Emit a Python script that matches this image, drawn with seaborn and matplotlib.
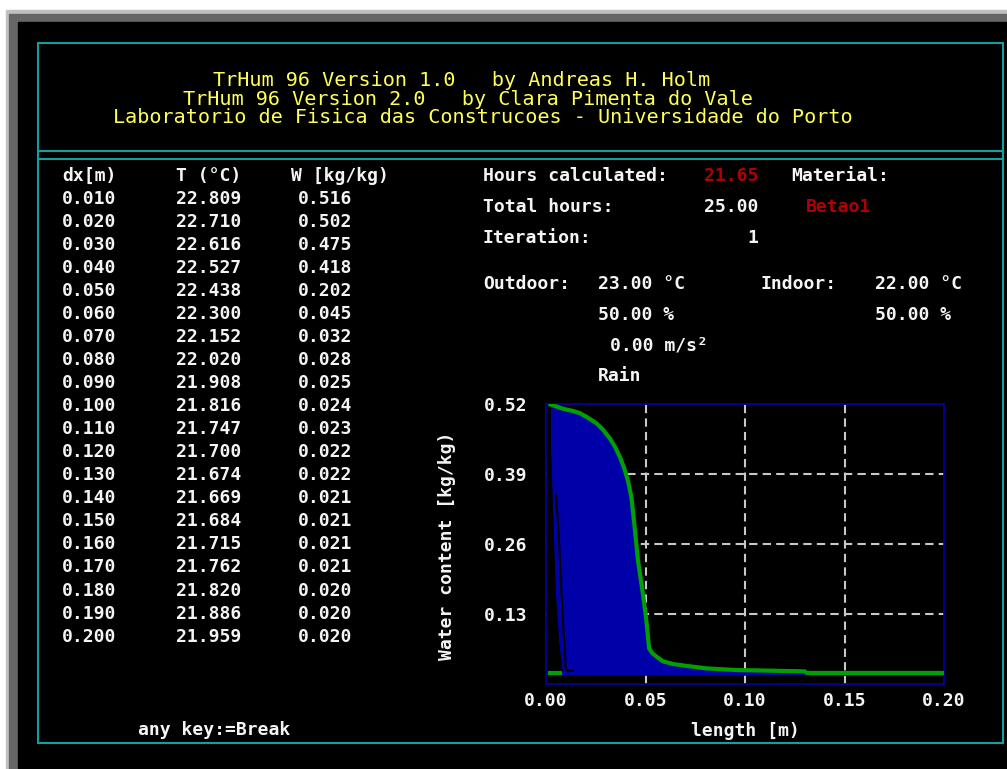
import matplotlib
matplotlib.use("Agg")
import matplotlib.pyplot as plt
import seaborn as sns
from matplotlib.patches import Rectangle

# ==========================================
# DATA
# ==========================================

dx = [0.010, 0.020, 0.030, 0.040, 0.050, 0.060, 0.070, 0.080, 0.090, 0.100,
      0.110, 0.120, 0.130, 0.140, 0.150, 0.160, 0.170, 0.180, 0.190, 0.200]
temp = [22.809, 22.710, 22.616, 22.527, 22.438, 22.300, 22.152, 22.020, 21.908, 21.816,
        21.747, 21.700, 21.674, 21.669, 21.684, 21.715, 21.762, 21.820, 21.886, 21.959]
water = [0.516, 0.502, 0.475, 0.418, 0.202, 0.045, 0.032, 0.028, 0.025, 0.024,
         0.023, 0.022, 0.022, 0.021, 0.021, 0.021, 0.021, 0.020, 0.020, 0.020]

# current moisture profile (green line)
prof_x = [0.0023, 0.0087, 0.0137, 0.0170, 0.0204, 0.0229, 0.0254, 0.0287, 0.0321, 0.0346,
          0.0371, 0.0393, 0.0413, 0.0430, 0.0446, 0.0463, 0.0488, 0.0505, 0.0518, 0.0535,
          0.0555, 0.0588, 0.0640, 0.0698, 0.0807, 0.0953, 0.1300, 0.1310, 0.1990]
prof_w = [0.519, 0.511, 0.507, 0.503, 0.496, 0.490, 0.484, 0.472, 0.456, 0.441,
          0.422, 0.401, 0.376, 0.345, 0.289, 0.227, 0.165, 0.116, 0.066, 0.057,
          0.051, 0.042, 0.037, 0.034, 0.029, 0.026, 0.0235, 0.0205, 0.0205]
fill_floor = 0.017

# older profiles left on screen (black traces)
trail_a_x = [0.0012, 0.0023, 0.0033, 0.0045, 0.0062, 0.0079]
trail_a_w = [0.484, 0.413, 0.290, 0.167, 0.074, 0.024]
trail_b_x = [0.0050, 0.0062, 0.0074, 0.0087, 0.0100, 0.0134]
trail_b_w = [0.351, 0.290, 0.198, 0.105, 0.026, 0.024]
start_x = [0.0020, 0.0070]
start_w = [0.0205, 0.0205]

x_ticks = [0.00, 0.05, 0.10, 0.15, 0.20]
x_tick_labels = ["0.00", "0.05", "0.10", "0.15", "0.20"]
y_ticks = [0.13, 0.26, 0.39, 0.52]
y_tick_labels = ["0.13", "0.26", "0.39", "0.52"]
grid_x = [0.05, 0.10, 0.15]
grid_w = [0.13, 0.26, 0.39]

header_lines = ["TrHum 96 Version 1.0   by Andreas H. Holm",
                "TrHum 96 Version 2.0   by Clara Pimenta do Vale",
                "Laboratorio de Fisica das Construcoes - Universidade do Porto"]

# ==========================================
# STYLE
# ==========================================

WHITE = "#f4f4f4"
RED = "#b00000"
YELLOW = "#ffff55"
CYAN = "#10a0a0"
NAVY = "#0000a8"
GREEN = "#00a000"
GRID = "#c8c8c8"
FS = 13

plt.rcParams["font.family"] = ["DejaVu Sans Mono"]
plt.rcParams["font.weight"] = "bold"

fig = plt.figure(figsize=(10.07, 7.69), dpi=100)

# screen background in pixel coordinates
bg = fig.add_axes([0, 0, 1, 1])
bg.set_xlim(0, 1007)
bg.set_ylim(769, 0)
bg.axis("off")
bg.add_patch(Rectangle((0, 0), 1007, 769, color="white"))
bg.add_patch(Rectangle((6, 10), 1001, 759, color="#c0c0c0"))
bg.add_patch(Rectangle((9, 14), 998, 755, color="#666666"))
bg.add_patch(Rectangle((18, 22), 989, 746, color="black"))
bg.add_patch(Rectangle((38, 43), 965, 700, fill=False, edgecolor=CYAN, lw=1.5))
bg.plot([38, 1003], [151, 151], color=CYAN, lw=1.5)
bg.plot([38, 1003], [159, 159], color=CYAN, lw=1.5)


def put(x, y, s, color=WHITE, ha="left", size=FS, weight="bold"):
    # y is the visual centre of the capitals
    bg.text(x, y + 0.47 * size * 100 / 72 * 0.73 + 0.5, s, color=color, ha=ha,
            va="baseline", fontsize=size, fontweight=weight)


# header
for i, (line, x0) in enumerate(zip(header_lines, [213, 183, 113])):
    put(x0, 79 + i * 18.5, line, color=YELLOW, size=14.5, weight="normal")

# left table
put(62, 174, "dx[m)")
put(176, 174, "T (°C)")
put(291, 174, "W [kg/kg)")
for i in range(len(dx)):
    yc = 197 + i * 23.05
    put(62, yc, f"{dx[i]:.3f}")
    put(176, yc, f"{temp[i]:.3f}")
    put(298, yc, f"{water[i]:.3f}")

# info block
put(483, 174, "Hours calculated:")
put(758, 174, "21.65", color=RED, ha="right")
put(791, 174, "Material:")
put(483, 205, "Total hours:")
put(758, 205, "25.00", ha="right")
put(806, 205, "Betao1", color=RED)
put(483, 236, "Iteration:")
put(758, 236, "1", ha="right")
put(483, 282, "Outdoor:")
put(598, 282, "23.00 °C")
put(761, 282, "Indoor:")
put(875, 282, "22.00 °C")
put(598, 313, "50.00 %")
put(875, 313, "50.00 %")
put(610, 344, "0.00 m/s²")
put(598, 374, "Rain")
put(138, 728, "any key:=Break")

# ==========================================
# MOISTURE PROFILE PLOT
# ==========================================

ax = fig.add_axes([546 / 1007, (769 - 684) / 769, 398 / 1007, 280 / 769])
ax.set_facecolor("black")

for g in grid_w:
    ax.axhline(g, color=GRID, lw=1.5, ls=(0, (4, 2.5)), zorder=1)
for g in grid_x:
    ax.axvline(g, color=GRID, lw=1.5, ls=(0, (4, 2.5)), zorder=1)

ax.fill_between(prof_x, prof_w, fill_floor, color=NAVY, lw=0, zorder=2)
ax.fill_betweenx(trail_a_w, 0, trail_a_x, color="black", lw=0, zorder=2.2)

sns.lineplot(x=trail_a_x, y=trail_a_w, ax=ax, color="black", linewidth=1.5,
             sort=False, estimator=None, zorder=3)
sns.lineplot(x=trail_b_x, y=trail_b_w, ax=ax, color="black", linewidth=1.5,
             sort=False, estimator=None, zorder=3)
sns.lineplot(x=start_x, y=start_w, ax=ax, color=GREEN, linewidth=3,
             sort=False, estimator=None, zorder=4)
sns.lineplot(x=prof_x, y=prof_w, ax=ax, color=GREEN, linewidth=3,
             sort=False, estimator=None, zorder=4)

ax.set_xlim(0, 0.2)
ax.set_ylim(0, 0.52)
ax.set_xticks(x_ticks)
ax.set_xticklabels(x_tick_labels)
ax.set_yticks(y_ticks)
ax.set_yticklabels(y_tick_labels)
ax.tick_params(axis="x", length=0, pad=6, labelcolor=WHITE, labelsize=FS)
ax.tick_params(axis="y", length=0, pad=13.5, labelcolor=WHITE, labelsize=FS)
for s in ax.spines.values():
    s.set_color(NAVY)
    s.set_linewidth(1.2)

ax.set_xlabel("length [m)", color=WHITE, fontsize=FS, fontweight="bold")
ax.set_ylabel("Water content [kg/kg)", color=WHITE, fontsize=FS, fontweight="bold")
ax.xaxis.set_label_coords(0.501, -0.136)
ax.yaxis.set_label_coords(-0.226, 0.493)

fig.savefig("out.png", dpi=100)
